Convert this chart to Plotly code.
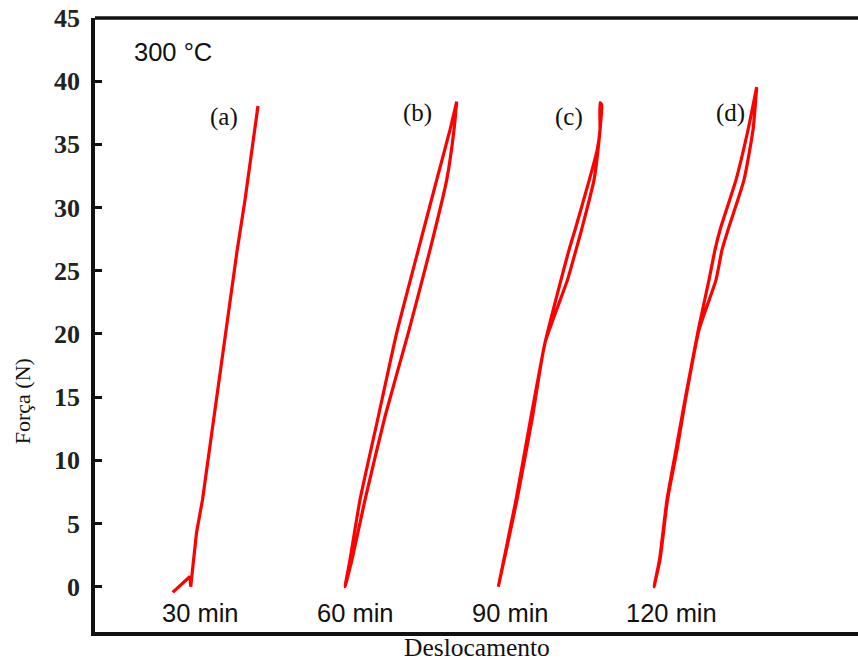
import plotly.graph_objects as go

# Displacement (arbitrary units) and force (N) for each curve
a_x = [7.77, 9.5, 9.57, 10.15, 10.75, 11.35, 11.9, 12.15, 13.05, 14.22, 15.0, 16.15, 16.3, 16.2]
a_y = [-0.45, 0.81, 0.0, 4.27, 6.88, 10.31, 13.44, 14.79, 20.09, 26.65, 30.6, 37.49, 38.04, 37.6]

b_x = [25.0, 25.7, 27.0, 29.0, 31.33, 33.5, 35.17, 35.9, 36.17,
       36.17, 35.5, 34.17, 32.33, 30.17, 28.33, 26.5, 25.5, 25.0]
b_y = [0.0, 2.14, 6.88, 13.47, 20.09, 26.65, 32.19, 36.14, 38.38,
       38.38, 36.14, 32.19, 26.65, 20.09, 13.47, 6.88, 2.14, 0.0]

c_x = [40.33, 42.2, 43.75, 45.0, 47.25, 48.1, 48.65, 49.9, 50.5, 50.67, 50.5,
       50.5, 50.2, 49.43, 48.0, 47.4, 46.6, 45.0, 43.6, 42.1, 40.33]
c_y = [0.0, 6.88, 13.44, 19.3, 24.28, 26.65, 28.23, 32.19, 36.14, 38.12, 38.3,
       36.14, 34.5, 32.19, 28.23, 26.65, 24.28, 19.3, 13.44, 6.88, 0.0]

d_x = [55.9, 56.5, 57.25, 58.2, 59.05, 60.4, 62.1, 62.7, 63.3, 64.9, 65.8, 66.17,
       66.17, 65.3, 64.1, 62.5, 62.0, 61.4, 60.33, 59.0, 58.1, 57.2, 56.45, 55.9]
d_y = [0.0, 2.14, 6.88, 10.83, 14.79, 20.33, 24.28, 26.65, 28.23, 32.19, 36.14, 39.54,
       39.54, 36.14, 32.19, 28.23, 26.65, 24.28, 20.33, 14.79, 10.83, 6.88, 2.14, 0.0]

curves = [(a_x, a_y, "linear"), (b_x, b_y, "spline"), (c_x, c_y, "spline"), (d_x, d_y, "spline")]

panel_labels = ["(a)", "(b)", "(c)", "(d)"]
time_labels = ["30 min", "60 min", "90 min", "120 min"]
y_ticks = [0, 5, 10, 15, 20, 25, 30, 35, 40, 45]

fig = go.Figure()
for xs, ys, shp in curves:
    line = dict(color="#ff0000", width=3.2, shape=shp)
    if shp == "spline":
        line["smoothing"] = 0.5
    fig.add_trace(go.Scatter(x=xs, y=ys, mode="lines", line=line,
                             showlegend=False, hoverinfo="skip"))

serif = "Liberation Serif"
sans = "Liberation Sans"

panel_pos = [(12.9, 37.2), (32.2, 37.5), (47.4, 37.2), (63.5, 37.5)]
for t, (x, y) in zip(panel_labels, panel_pos):
    fig.add_annotation(x=x, y=y, text=t, showarrow=False,
                       font=dict(family=serif, size=25, color="#111"))

time_pos = [10.5, 26.0, 41.5, 57.67]
for t, x in zip(time_labels, time_pos):
    fig.add_annotation(x=x, y=-2.05, text=t, showarrow=False,
                       font=dict(family=sans, size=25.5, color="#111"))

fig.add_annotation(x=7.75, y=42.3, text="300 °C", showarrow=False,
                   font=dict(family=sans, size=25.5, color="#111"))

fig.add_annotation(xref="paper", yref="paper", x=0.501, y=-0.026, text="Deslocamento",
                   showarrow=False, yanchor="middle",
                   font=dict(family=serif, size=25.5, color="#111"))
fig.add_annotation(xref="paper", y=(587 - 402) / 12.64, x=-0.095, text="Força (N)",
                   showarrow=False, textangle=-90, xanchor="center",
                   font=dict(family=serif, size=22, color="#111"))

# top border line
fig.add_shape(type="line", xref="paper", yref="paper", x0=0, x1=1, y0=1, y1=1,
              line=dict(color="#111", width=3.5))

fig.update_layout(
    width=858, height=664,
    margin=dict(l=95, r=0, t=18, b=32),
    paper_bgcolor="white", plot_bgcolor="white",
    xaxis=dict(range=[0, 76.3], showgrid=False, zeroline=False, showticklabels=False,
               ticks="", showline=True, linecolor="#111", linewidth=3.5),
    yaxis=dict(range=[-3.58, 45], showgrid=False, zeroline=False,
               tickvals=y_ticks, ticks="inside", ticklen=7, tickwidth=3, tickcolor="#111",
               showline=True, linecolor="#111", linewidth=3.5,
               ticklabelstandoff=6,
               tickfont=dict(family=serif, size=26, color="#222", weight="bold")),
)

fig.write_html("out.html")
